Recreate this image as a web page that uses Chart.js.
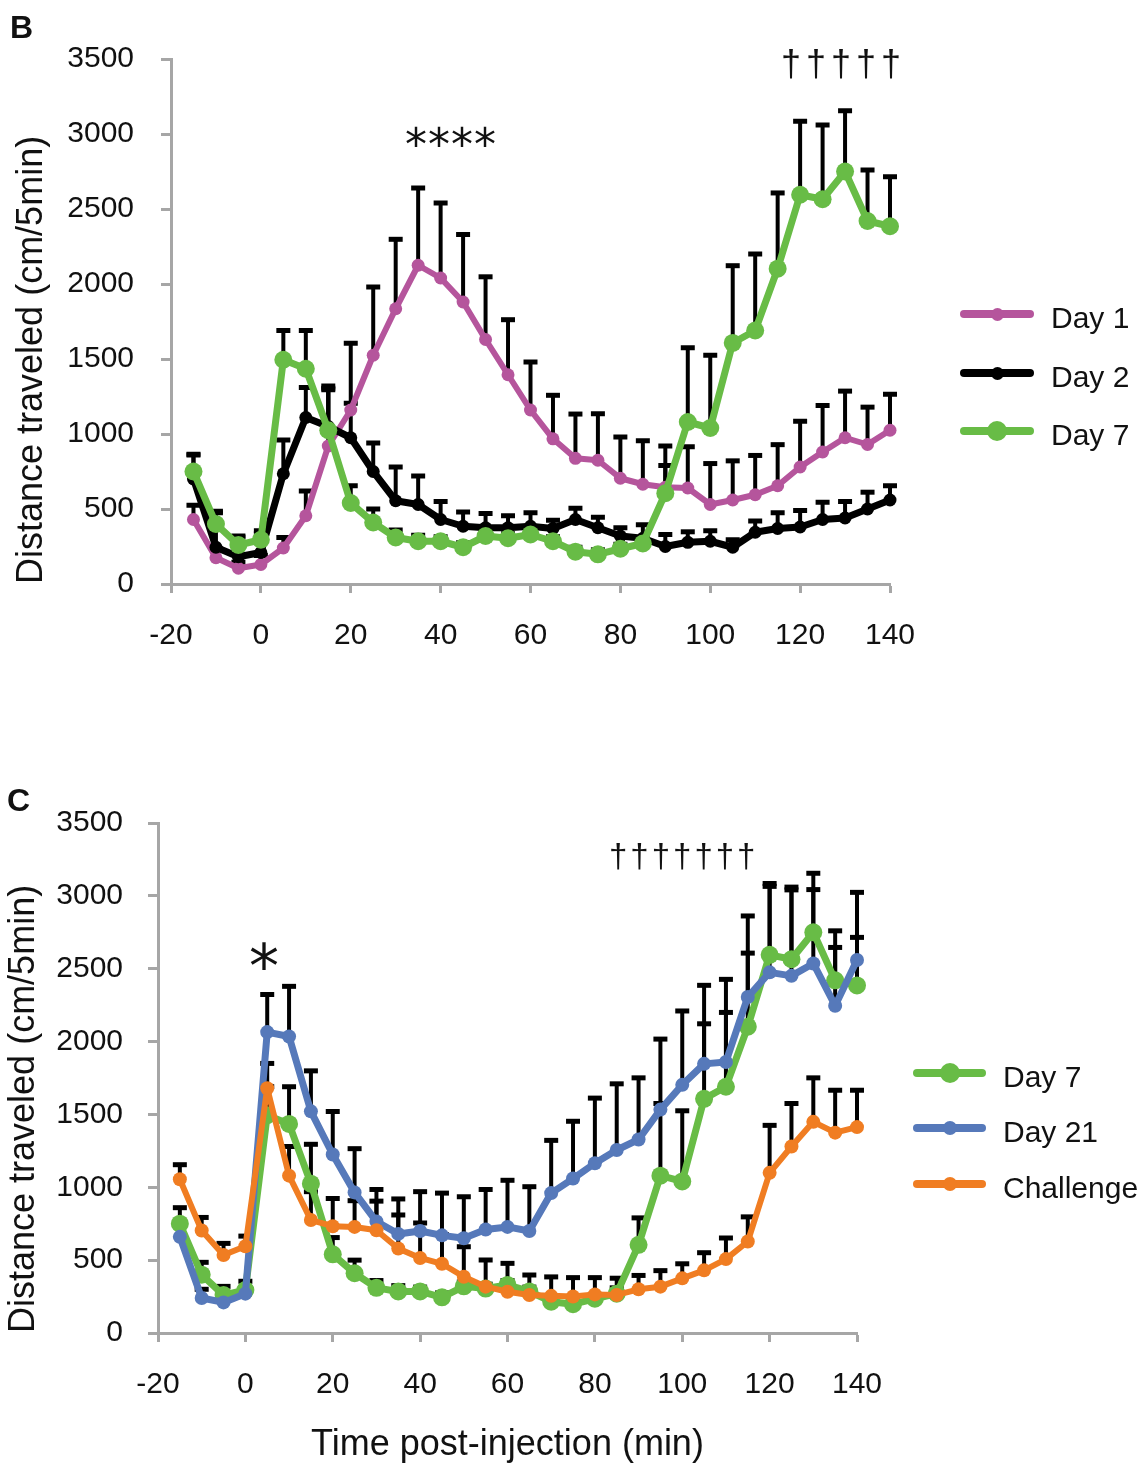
<!DOCTYPE html>
<html>
<head>
<meta charset="utf-8">
<script src="https://cdn.jsdelivr.net/npm/chart.js@4.4.1/dist/chart.umd.min.js"></script>
<style>
  html, body { margin: 0; padding: 0; background: #fff; }
  #page { position: relative; width: 1144px; height: 1467px; overflow: hidden; background: #fff;
          font-family: 'Liberation Sans', Arial, sans-serif; color: #111; }
  canvas { position: absolute; left: 0; }
  .txt { position: absolute; white-space: nowrap; line-height: 1; }
  .leg-line { position: absolute; height: 8px; border-radius: 4px; }
  .leg-dot { position: absolute; border-radius: 50%; }
  .leg-text { position: absolute; font-size: 30px; line-height: 30px; white-space: nowrap; }
</style>
</head>
<body>
<div id="page">
  <canvas id="chartB" width="1144" height="690" style="top:0"></canvas>
  <canvas id="chartC" width="1144" height="687" style="top:780px"></canvas>

  <div class="txt" style="left:10px; top:11px; font-size:32px; font-weight:bold;">B</div>
  <div class="txt" style="left:7px; top:784px; font-size:32px; font-weight:bold;">C</div>

  <div class="txt" style="left:405px; top:123px; font-size:44px; font-family:'DejaVu Sans'; letter-spacing:1px;">****</div>
  <div class="txt" style="left:781px; top:46px; font-size:36px; letter-spacing:5px;">†††††</div>
  <div class="txt" style="left:249px; top:936px; font-size:60px; font-family:'DejaVu Sans';">*</div>
  <div class="txt" style="left:609px; top:839px; font-size:33px; letter-spacing:3px;">†††††††</div>

  <div id="legendB"></div>
  <div id="legendC"></div>
</div>

<script>
// ---------------- data ----------------
const minutes = [-15,-10,-5,0,5,10,15,20,25,30,35,40,45,50,55,60,65,70,75,80,85,90,95,100,105,110,115,120,125,130,135,140];
const xTickValues = [-20,0,20,40,60,80,100,120,140];
const yTickValues = [0,500,1000,1500,2000,2500,3000,3500];

const day1Mean = [430,175,105,130,240,455,920,1160,1525,1835,2125,2040,1880,1630,1395,1160,968,838,825,705,665,645,640,530,560,595,655,780,880,975,930,1025];
const day1Sem  = [95,60,40,60,70,165,400,445,455,463,515,500,450,418,367,320,290,295,310,275,290,275,275,273,261,262,274,305,310,311,249,240];

const day2Mean = [700,245,182,210,735,1110,1050,975,750,555,530,430,385,375,375,385,370,430,375,320,305,250,278,285,245,345,370,380,430,440,500,560];
const day2Sem  = [165,230,130,125,225,200,255,230,190,225,190,120,95,95,80,90,55,75,70,55,90,80,70,70,50,75,105,110,115,110,112,95];

const day7Mean = [750,400,260,295,1495,1435,1025,540,410,310,285,285,245,320,305,330,285,215,198,235,270,605,1080,1040,1607,1690,2102,2595,2565,2750,2420,2385];
const day7Sem  = [110,85,60,60,195,255,270,115,90,50,40,30,30,30,30,30,30,30,30,30,40,185,495,485,515,510,505,490,495,405,340,330];

const day21Mean = [660,240,210,270,2065,2035,1521,1225,965,765,680,700,670,650,710,728,700,960,1060,1165,1256,1328,1533,1703,1847,1860,2306,2475,2451,2536,2246,2560];
const day21Sem  = [100,60,40,40,258,344,278,295,300,220,240,270,290,285,275,320,304,362,393,447,454,423,484,507,539,567,556,590,590,507,400,464];

const challengeMean = [1055,703,535,595,1680,1080,775,733,728,705,580,515,475,386,318,283,261,255,250,265,261,300,318,375,430,507,628,1099,1280,1449,1375,1413];
const challengeSem  = [100,90,80,70,170,200,195,190,180,200,230,240,200,206,183,195,137,130,130,115,115,95,110,100,121,145,169,326,295,302,291,253];

const labelsB = ['Day 1','Day 2','Day 7'];
const labelsC = ['Day 7','Day 21','Challenge'];
const yTitle = 'Distance traveled (cm/5min)';
const xTitle = 'Time post-injection (min)';

// ---------------- styles ----------------
const COLORS = { day1:'#b5559c', day2:'#000000', day7:'#68bc46', day21:'#5679ba', challenge:'#f07d22' };
const AXIS = '#a6a6a6';
const FONT = "'Liberation Sans', Arial, sans-serif";
Chart.defaults.font.family = FONT;
Chart.defaults.color = '#111';

function pts(means) { return minutes.map((m, i) => ({ x: m, y: means[i] })); }

function series(label, means, sems, color, width, radius, order) {
  return {
    label, data: pts(means), errors: sems, order,
    borderColor: color, backgroundColor: color,
    pointBackgroundColor: color, pointBorderColor: color, pointBorderWidth: 0,
    pointRadius: radius, pointHoverRadius: radius,
    borderWidth: width, tension: 0, clip: false,
    borderJoinStyle: 'round', borderCapStyle: 'round'
  };
}

const errorBars = {
  id: 'errorBars',
  beforeDatasetsDraw(chart) {
    const ctx = chart.ctx, xs = chart.scales.x, ys = chart.scales.y;
    ctx.save();
    ctx.strokeStyle = '#000';
    chart.data.datasets.forEach(ds => {
      if (!ds.errors) return;
      ds.data.forEach((p, j) => {
        const px = xs.getPixelForValue(p.x);
        const py = ys.getPixelForValue(p.y);
        const pt = ys.getPixelForValue(p.y + ds.errors[j]);
        ctx.lineWidth = 4;
        ctx.beginPath(); ctx.moveTo(px, py); ctx.lineTo(px, pt); ctx.stroke();
        ctx.lineWidth = 5;
        ctx.beginPath(); ctx.moveTo(px - 7, pt); ctx.lineTo(px + 7, pt); ctx.stroke();
      });
    });
    ctx.restore();
  }
};

function makeChart(id, datasets, geo) {
  return new Chart(document.getElementById(id), {
    type: 'line',
    data: { datasets },
    plugins: [errorBars],
    options: {
      responsive: false, animation: false, devicePixelRatio: 1,
      layout: { padding: { top: geo.top, right: geo.right, left: 0, bottom: 0 } },
      plugins: { legend: { display: false }, tooltip: { enabled: false } },
      scales: {
        x: {
          type: 'linear', min: -20, max: 140,
          afterBuildTicks: s => { s.ticks = xTickValues.map(v => ({ value: v })); },
          afterFit: s => { s.height = geo.xh; },
          ticks: { font: { size: 30 }, color: '#111', padding: 25, maxRotation: 0, autoSkip: false,
                   callback: v => String(v) },
          grid: { drawOnChartArea: false, drawTicks: true, tickLength: 9, tickWidth: 3, tickColor: AXIS, color: AXIS },
          border: { display: true, color: AXIS, width: 3 },
          title: { display: !!geo.xTitle, text: geo.xTitle || '', font: { size: 36 }, color: '#111',
                   padding: { top: 0, bottom: 0 } }
        },
        y: {
          min: 0, max: 3500,
          afterBuildTicks: s => { s.ticks = yTickValues.map(v => ({ value: v })); },
          afterFit: s => { s.width = geo.yw; },
          ticks: { font: { size: 30 }, color: '#111', padding: geo.ypad, callback: v => String(v) },
          grid: { drawOnChartArea: false, drawTicks: true, tickLength: 10, tickWidth: 3, tickColor: AXIS, color: AXIS },
          border: { display: true, color: AXIS, width: 3 },
          title: { display: true, text: yTitle, align: 'start', font: { size: 36 }, color: '#111',
                   padding: { top: geo.ytp, bottom: 0 } }
        }
      }
    }
  });
}

makeChart('chartB', [
  series(labelsB[0], day1Mean, day1Sem, COLORS.day1, 6, 6.5, 2),
  series(labelsB[1], day2Mean, day2Sem, COLORS.day2, 7, 6.5, 1),
  series(labelsB[2], day7Mean, day7Sem, COLORS.day7, 7, 9, 0)
], { top: 59, right: 254, xh: 106, yw: 171, ypad: 27, ytp: 10 });

makeChart('chartC', [
  series(labelsC[0], day7Mean, day7Sem, COLORS.day7, 7, 9, 2),
  series(labelsC[1], day21Mean, day21Sem, COLORS.day21, 7, 7, 1),
  series(labelsC[2], challengeMean, challengeSem, COLORS.challenge, 6, 7, 0)
], { top: 42, right: 287, xh: 134, yw: 158, ypad: 25, ytp: 2, xTitle: xTitle });

// ---------------- legends (HTML) ----------------
function buildLegend(hostId, labels, colors, dotR, lineX, lineW, rowsY, textX) {
  const host = document.getElementById(hostId);
  labels.forEach((lab, i) => {
    const y = rowsY[i];
    const line = document.createElement('div');
    line.className = 'leg-line';
    line.style.cssText = `left:${lineX}px; top:${y - 4}px; width:${lineW}px; background:${colors[i]};`;
    const dot = document.createElement('div');
    dot.className = 'leg-dot';
    const r = dotR[i];
    dot.style.cssText = `left:${lineX + lineW / 2 - r}px; top:${y - r}px; width:${2 * r}px; height:${2 * r}px; background:${colors[i]};`;
    const t = document.createElement('div');
    t.className = 'leg-text';
    t.style.cssText = `left:${textX}px; top:${y + 4 - 15}px;`;
    t.textContent = lab;
    host.appendChild(line); host.appendChild(dot); host.appendChild(t);
  });
}
buildLegend('legendB', labelsB, [COLORS.day1, COLORS.day2, COLORS.day7], [6.5, 6.5, 10], 960, 74, [314, 373, 431], 1051);
buildLegend('legendC', labelsC, [COLORS.day7, COLORS.day21, COLORS.challenge], [10, 7, 7], 913, 73, [1073, 1128, 1184], 1003);
</script>
</body>
</html>
